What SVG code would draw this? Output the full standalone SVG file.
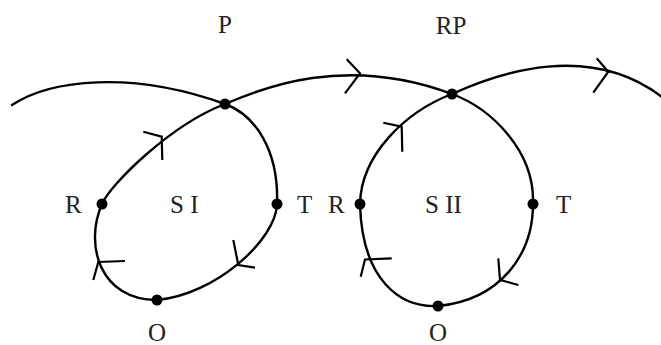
<svg xmlns="http://www.w3.org/2000/svg" width="661" height="345" viewBox="0 0 661 345">
<style>
.curve{fill:none;stroke:#000;stroke-width:2.4;stroke-linecap:round;stroke-linejoin:round}
.arr{fill:none;stroke:#000;stroke-width:2.2;stroke-linecap:butt;stroke-linejoin:miter}
.dot{fill:#000}
.lbl{font-family:"Liberation Serif","Times New Roman",serif;font-size:25px;fill:#222}
</style>
<rect width="661" height="345" fill="#fff"/>
<g id="connectors">
<path class="curve" d="M12,105 C50,80 130,70 225,104 C255,115 279,150 277,204 C276,240 215,295 157,300 C100,300 84,245 102,204 C110,185 170,125 225,104 C262,88 345,54 452,94 C490,108 535,150 533,204 C533,255 500,300 438,306 C400,308 362,280 360,204 C361,155 405,112 452,94 C500,72 590,42 662,97"/>
<path class="arr" d="M346.7,59.3 L360,73.3 L345,93.3"/>
<path class="arr" d="M596.7,58.3 L608.3,71.7 L593.3,92.7"/>
<path class="arr" d="M143.3,131.7 L161.7,136.7 L162.3,160"/>
<path class="arr" d="M125,261 L98.3,262 L93.3,280"/>
<path class="arr" d="M233.3,240 L238.3,265 L255,267.7"/>
<path class="arr" d="M383.3,122.7 L401.7,126.7 L402.3,151.7"/>
<path class="arr" d="M391.7,258.3 L365,259.5 L360.7,276.7"/>
<path class="arr" d="M498.3,258.3 L500,280 L518.3,285"/>
</g>
<g id="P"><circle class="dot" cx="225" cy="104" r="5.5"/><text class="lbl" x="225" y="33" text-anchor="middle">P</text></g>
<g id="RP"><circle class="dot" cx="452" cy="94" r="5.5"/><text class="lbl" x="451" y="34" text-anchor="middle">RP</text></g>
<g id="R1"><circle class="dot" cx="102" cy="204" r="5.5"/><text class="lbl" x="65" y="213">R</text></g>
<g id="T1"><circle class="dot" cx="277" cy="204" r="5.5"/><text class="lbl" x="297" y="213">T</text></g>
<g id="O1"><circle class="dot" cx="157" cy="300" r="5.5"/><text class="lbl" x="157" y="341" text-anchor="middle">O</text></g>
<g id="SI"><text class="lbl" x="170" y="213">S I</text></g>
<g id="R2"><circle class="dot" cx="360" cy="204" r="5.5"/><text class="lbl" x="328" y="213">R</text></g>
<g id="T2"><circle class="dot" cx="533" cy="204" r="5.5"/><text class="lbl" x="556" y="213">T</text></g>
<g id="O2"><circle class="dot" cx="438" cy="306" r="5.5"/><text class="lbl" x="438" y="341" text-anchor="middle">O</text></g>
<g id="SII"><text class="lbl" x="425" y="213">S II</text></g>
</svg>
